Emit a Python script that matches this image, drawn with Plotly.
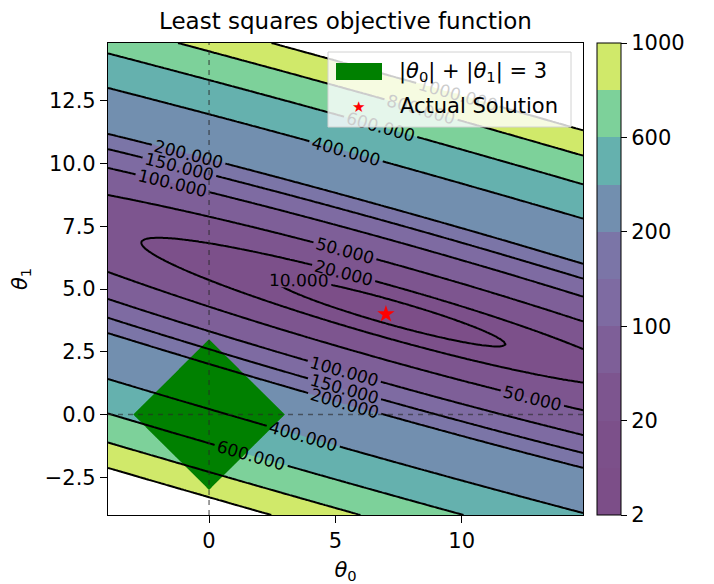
import numpy as np
import plotly.graph_objects as go
import plotly.colors as pc

# ---------------- data ----------------
theta0_range = [-4.0, 14.8]
theta1_range = [-4.0, 14.8]
grid_points = 189
# least-squares objective: quadratic bowl estimated from the contour positions
ls_center = [7.14, 4.09]          # minimiser (theta0, theta1)
ls_min_value = 7.2
ls_quad = [1.013, 3.14, 11.2]     # coeff of d0^2, half cross coeff, coeff of d1^2
levels = [2, 10, 20, 50, 100, 150, 200, 400, 600, 800, 1000]
line_levels = [10, 20, 50, 100, 150, 200, 400, 600, 800, 1000]
cbar_tick_levels = [2, 20, 100, 200, 600, 1000]
l1_radius = 3
actual_solution_t0 = [7]
actual_solution_t1 = [4]
x_ticks = [0, 5, 10]
y_ticks = [-2.5, 0.0, 2.5, 5.0, 7.5, 10.0, 12.5]

# ---------------- style ----------------
FONT = "DejaVu Sans"
OFF = 8                                   # browser body margin
W, H = 714 - OFF, 584 - OFF
L, R, T, B = 108, 583, 43, 515            # plot-area box in page pixels
ALPHA = 0.7


def px_x(p):
    return (p - L) / (R - L)


def px_y(p):
    return (B - p) / (B - T)


def viridis_blend(t):
    stops = pc.sequential.Viridis
    n = len(stops) - 1
    pos = min(max(t, 0.0), 1.0) * n
    i = min(int(pos), n - 1)
    f = pos - i
    c0 = pc.hex_to_rgb(stops[i])
    c1 = pc.hex_to_rgb(stops[i + 1])
    c = [c0[k] + (c1[k] - c0[k]) * f for k in range(3)]
    c = [ALPHA * v + (1 - ALPHA) * 255 for v in c]
    return "rgb(%d,%d,%d)" % tuple(int(round(v)) for v in c)


lev = np.array(levels, dtype=float)
mids = 0.5 * (lev[:-1] + lev[1:])
band_colors = [viridis_blend((m - lev[0]) / (lev[-1] - lev[0])) for m in mids]
nb = len(band_colors)

# ---------------- grid ----------------
t0 = np.linspace(theta0_range[0], theta0_range[1], grid_points)
t1 = np.linspace(theta1_range[0], theta1_range[1], grid_points)
T0, T1 = np.meshgrid(t0, t1)
D0 = T0 - ls_center[0]
D1 = T1 - ls_center[1]
a, b, c = ls_quad
Z = ls_min_value + a * D0 ** 2 + 2 * b * D0 * D1 + c * D1 ** 2

idx = np.arange(len(levels), dtype=float)
Zi = np.where(Z <= lev[-1], np.interp(Z, lev, idx), idx[-1] + (Z - lev[-1]) / lev[-1])
Zl1 = np.abs(T0) + np.abs(T1)

fill_scale = [[k / nb, band_colors[k]] for k in range(nb)] + [[1.0, "rgb(255,255,255)"]]

fig = go.Figure()

# filled bands
fig.add_trace(go.Contour(
    x=t0, y=t1, z=Zi.astype(np.float32), autocontour=False,
    contours=dict(start=1, end=nb, size=1, coloring="fill", showlines=False),
    colorscale=fill_scale, showscale=False, line=dict(width=0),
    hoverinfo="skip", showlegend=False))

# L1 ball |t0|+|t1| = 3
fig.add_trace(go.Contour(
    x=t0, y=t1, z=Zl1.astype(np.float32), autocontour=False,
    contours=dict(type="constraint", operation=">", value=l1_radius),
    fillcolor="green", line=dict(color="green", width=0, smoothing=0),
    showscale=False, hoverinfo="skip", showlegend=False))

# labelled contour lines
for lv in line_levels:
    fig.add_trace(go.Contour(
        x=t0, y=t1, z=Z.astype(np.float32), autocontour=False,
        contours=dict(start=lv, end=lv, size=1, coloring="none", showlabels=True,
                      labelfont=dict(family=FONT, size=17, color="black"),
                      labelformat=".3f"),
        line=dict(color="black", width=2),
        showscale=False, hoverinfo="skip", showlegend=False))

# actual solution
fig.add_trace(go.Scatter(
    x=actual_solution_t0, y=actual_solution_t1, mode="markers",
    marker=dict(symbol="star", color="red", size=13, line=dict(width=0)),
    showlegend=False))

# colorbar (uniform spacing by level index, like matplotlib)
disc = []
for k in range(nb):
    disc.append([k / nb, band_colors[k]])
    disc.append([(k + 1) / nb, band_colors[k]])
fig.add_trace(go.Scatter(
    x=[None], y=[None], mode="markers", showlegend=False, hoverinfo="skip",
    marker=dict(color=[0], cmin=0, cmax=nb, colorscale=disc, showscale=True,
                colorbar=dict(
                    x=px_x(597), xanchor="left", xpad=0, ypad=0,
                    y=0.5, yanchor="middle", len=1, lenmode="fraction",
                    thickness=24, thicknessmode="pixels",
                    outlinewidth=1, outlinecolor="black",
                    tickvals=[levels.index(v) for v in cbar_tick_levels],
                    ticktext=[str(v) for v in cbar_tick_levels],
                    ticks="outside", ticklen=6, tickwidth=1.2, tickcolor="black",
                    tickfont=dict(family=FONT, size=21, color="black")))))

shapes = [
    dict(type="line", xref="x", yref="paper", x0=0, x1=0, y0=0, y1=1, layer="above",
         line=dict(color="rgba(40,40,40,0.6)", width=1.5, dash="5px,5px")),
    dict(type="line", xref="paper", yref="y", x0=0, x1=1, y0=0, y1=0, layer="above",
         line=dict(color="rgba(40,40,40,0.6)", width=1.5, dash="5px,5px")),
    # legend frame
    dict(type="rect", xref="paper", yref="paper", layer="above",
         x0=px_x(328), x1=px_x(571), y0=px_y(127), y1=px_y(52),
         fillcolor="rgba(255,255,255,0.8)", line=dict(color="rgb(210,210,210)", width=1)),
    # legend patch
    dict(type="rect", xref="paper", yref="paper", layer="above",
         x0=px_x(336), x1=px_x(382), y0=px_y(80), y1=px_y(63),
         fillcolor="green", line=dict(width=0)),
]

annotations = [
    dict(xref="paper", yref="paper", x=px_x(397), y=px_y(72), xanchor="left", yanchor="middle",
         text="|<i>θ</i><sub>0</sub>| + |<i>θ</i><sub>1</sub>| = 3", showarrow=False,
         font=dict(family=FONT, size=21, color="black")),
    dict(xref="paper", yref="paper", x=px_x(398), y=px_y(106), xanchor="left", yanchor="middle",
         text="Actual Solution", showarrow=False,
         font=dict(family=FONT, size=21, color="black")),
    dict(xref="paper", yref="paper", x=px_x(358), y=px_y(107), xanchor="center", yanchor="middle",
         text="★", showarrow=False, font=dict(family=FONT, size=15, color="red")),
]

axis_common = dict(showgrid=False, zeroline=False, showline=True, mirror=True,
                   linecolor="black", linewidth=1.2, ticks="outside", ticklen=7,
                   tickwidth=1.2, tickcolor="black", automargin=False,
                   tickfont=dict(family=FONT, size=21, color="black"))

fig.update_layout(
    width=W, height=H, autosize=False,
    margin=dict(l=L - OFF, r=W - (R - OFF), t=T - OFF, b=H - (B - OFF), pad=0,
                autoexpand=False),
    paper_bgcolor="white", plot_bgcolor="white",
    font=dict(family=FONT, color="black"),
    title=dict(text="Least squares objective function", x=px_x((L + R) / 2), xref="paper",
               xanchor="center", y=1 - (21 - OFF) / H, yref="container", yanchor="middle",
               font=dict(family=FONT, size=23, color="black")),
    xaxis=dict(range=theta0_range, tickvals=x_ticks, ticktext=[str(v) for v in x_ticks],
               title=dict(text="<i>θ</i><sub>0</sub>", standoff=12,
                          font=dict(family=FONT, size=21, color="black")),
               **axis_common),
    yaxis=dict(range=theta1_range, tickvals=y_ticks,
               ticktext=["−2.5" if v < 0 else "%.1f" % v for v in y_ticks],
               title=dict(text="<i>θ</i><sub>1</sub>", standoff=18,
                          font=dict(family=FONT, size=21, color="black")),
               **axis_common),
    shapes=shapes, annotations=annotations, showlegend=False,
)

fig.write_html("out.html")
